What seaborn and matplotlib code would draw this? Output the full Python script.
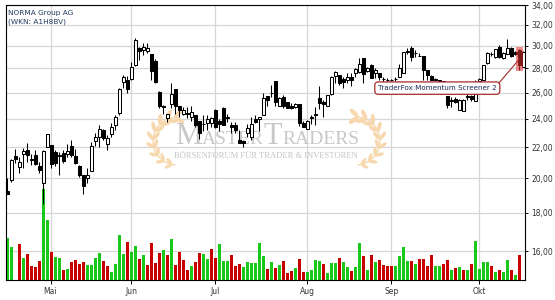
import numpy as np
import pandas as pd
import matplotlib
matplotlib.use("Agg")
import matplotlib.pyplot as plt
import seaborn as sns
from matplotlib.patches import Ellipse, Rectangle
from matplotlib.transforms import IdentityTransform
from matplotlib.offsetbox import TextArea, HPacker, AnnotationBbox
from matplotlib.ticker import FixedLocator, FuncFormatter, NullLocator

# ---------------- data ----------------
title = "NORMA Group AG"
subtitle = "(WKN: A1H8BV)"
signal_label = "TraderFox Momentum Screener 2"
signal_index = 128

opens = [19.23, 19.89, 21.40, 20.71, 21.51, 21.80, 21.22, 21.47, 20.78, 19.70,
         22.03, 22.14, 21.69, 21.47, 21.62, 21.51, 22.07, 21.40, 20.76, 20.19,
         20.03, 20.47, 22.42, 22.66, 23.20, 22.18, 22.90, 23.52, 24.45, 26.84,
         27.02, 27.10, 28.29, 29.80, 29.62, 29.56, 29.26, 28.64, 26.04, 24.92,
         24.03, 25.10, 26.30, 24.98, 24.38, 24.40, 24.12, 24.27, 23.83, 23.62,
         23.70, 23.70, 24.65, 23.85, 24.80, 24.12, 23.54, 23.54, 22.50, 22.40,
         22.98, 22.66, 23.96, 23.94, 24.27, 25.73, 26.00, 26.94, 24.95, 25.68,
         25.29, 24.95, 24.90, 25.10, 23.70, 23.27, 24.12, 24.38, 25.54, 25.29,
         24.95, 25.90, 27.36, 27.44, 27.08, 26.98, 27.30, 27.60, 27.72, 28.88,
         27.78, 28.30, 27.60, 27.60, 27.12, 27.04, 27.02, 27.08, 27.30, 27.60,
         29.44, 29.80, 29.36, 29.12, 29.10, 27.86, 27.36, 27.02, 26.95, 26.90,
         25.73, 25.33, 25.50, 24.65, 24.60, 25.70, 25.73, 25.30, 26.90, 27.02,
         28.44, 29.26, 29.00, 29.90, 28.88, 29.30, 29.80, 29.44, 29.62, 28.13]
highs = [20.00, 21.20, 21.87, 21.33, 21.96, 22.26, 21.53, 21.80, 21.03, 21.80,
         22.93, 22.14, 21.80, 21.69, 21.80, 22.20, 22.48, 21.85, 20.80, 20.22,
         20.62, 22.37, 22.98, 23.54, 23.25, 22.83, 23.70, 24.27, 26.33, 27.44,
         27.36, 28.58, 30.69, 29.85, 30.26, 30.26, 29.30, 28.80, 26.12, 25.03,
         24.38, 26.77, 26.30, 24.98, 24.87, 24.87, 24.95, 24.27, 23.83, 24.27,
         24.27, 24.10, 24.70, 24.00, 24.87, 24.38, 23.78, 23.78, 23.20, 22.48,
         23.60, 24.15, 24.27, 24.15, 26.00, 25.73, 26.64, 26.94, 25.68, 25.81,
         25.29, 25.16, 25.20, 25.10, 23.85, 23.90, 24.27, 24.85, 26.50, 25.41,
         25.81, 27.36, 27.80, 27.44, 27.30, 27.64, 27.60, 28.00, 28.88, 28.88,
         28.10, 28.36, 28.00, 27.64, 27.30, 27.18, 27.10, 27.26, 28.40, 29.45,
         29.80, 29.98, 29.62, 29.34, 29.10, 27.86, 27.44, 27.15, 27.05, 26.95,
         25.73, 25.68, 25.68, 25.50, 25.50, 25.95, 25.81, 27.02, 27.15, 28.30,
         29.45, 29.40, 29.73, 30.09, 29.45, 30.60, 29.85, 29.50, 29.73, 29.50]
lows = [19.03, 19.77, 20.93, 20.30, 20.62, 21.03, 20.82, 20.82, 20.30, 18.50,
        22.03, 20.65, 20.78, 20.19, 20.93, 21.36, 21.36, 20.89, 20.09, 19.04,
        19.73, 20.45, 22.07, 22.03, 22.50, 21.80, 22.66, 23.18, 24.27, 26.33,
        25.97, 26.98, 28.23, 28.73, 29.17, 29.34, 27.00, 26.77, 24.80, 24.38,
        23.75, 24.80, 24.38, 24.12, 24.27, 24.03, 23.83, 23.40, 22.55, 23.10,
        23.18, 23.40, 23.35, 23.10, 23.54, 23.78, 22.95, 22.98, 22.26, 22.00,
        22.70, 22.50, 23.66, 23.10, 24.27, 24.95, 25.68, 24.95, 24.95, 24.78,
        24.78, 24.70, 24.78, 23.45, 23.38, 23.27, 23.60, 23.54, 24.70, 24.10,
        24.95, 25.81, 26.74, 26.61, 26.33, 26.74, 26.50, 27.26, 27.64, 26.80,
        27.72, 27.15, 27.20, 26.98, 26.80, 26.86, 26.90, 26.95, 27.26, 27.60,
        29.26, 28.67, 28.97, 29.05, 27.02, 27.00, 27.02, 26.98, 26.40, 25.90,
        24.78, 24.85, 25.16, 24.65, 24.55, 25.41, 25.30, 25.30, 26.20, 27.02,
        28.40, 29.10, 28.90, 28.90, 28.80, 29.30, 29.00, 29.15, 27.88, 28.13]
closes = [19.04, 21.14, 21.18, 21.00, 21.74, 21.47, 21.16, 20.87, 20.51, 21.74,
          22.90, 20.90, 20.95, 21.43, 21.08, 21.74, 21.47, 20.93, 20.19, 19.55,
          20.19, 22.07, 22.66, 23.27, 22.60, 22.64, 23.38, 24.15, 26.25, 27.26,
          26.25, 28.16, 30.54, 29.57, 29.90, 29.78, 27.78, 26.86, 24.96, 24.88,
          24.38, 25.90, 24.98, 24.65, 24.65, 24.36, 24.50, 23.54, 22.97, 23.58,
          24.00, 24.03, 23.42, 23.60, 23.54, 24.08, 23.38, 23.15, 22.30, 22.26,
          23.35, 23.60, 23.75, 24.10, 25.60, 25.41, 25.95, 25.29, 25.54, 24.95,
          24.78, 24.78, 25.07, 23.70, 23.42, 23.85, 24.08, 24.27, 25.15, 25.10,
          25.81, 27.26, 27.72, 26.74, 26.88, 27.30, 27.02, 27.95, 28.35, 27.50,
          28.00, 27.20, 27.86, 27.26, 27.08, 27.00, 26.98, 27.12, 28.00, 29.40,
          29.50, 28.97, 29.32, 29.08, 27.86, 27.44, 27.02, 27.12, 27.00, 26.00,
          25.03, 25.41, 25.29, 25.45, 25.38, 25.66, 25.50, 25.88, 27.10, 28.30,
          29.34, 29.22, 29.67, 28.95, 29.34, 29.84, 29.10, 29.24, 28.30, 29.44]
# volume in thousand shares
volumes = [169, 132, 0, 144, 89, 104, 56, 53, 76, 364,
           240, 112, 92, 89, 41, 45, 73, 80, 65, 73,
           60, 60, 89, 108, 75, 56, 33, 64, 180, 104,
           152, 113, 136, 85, 100, 60, 149, 67, 109, 120,
           100, 165, 60, 113, 80, 40, 56, 72, 109, 103,
           85, 125, 89, 144, 76, 76, 100, 57, 64, 52,
           72, 67, 69, 148, 96, 45, 72, 49, 60, 76,
           27, 36, 49, 84, 32, 32, 40, 80, 77, 64,
           28, 67, 67, 89, 72, 52, 36, 51, 148, 96,
           41, 100, 72, 80, 59, 57, 56, 56, 96, 132,
           76, 76, 64, 84, 84, 56, 100, 56, 56, 64,
           80, 40, 48, 53, 40, 40, 64, 157, 43, 72,
           72, 56, 32, 40, 32, 80, 40, 20, 100, 0]
# 1 = volume bar shown green (up day), 0 = red (down day)
vol_up = [1, 1, 1, 0, 1, 0, 0, 0, 0, 1,
          1, 0, 1, 1, 0, 1, 0, 0, 0, 0,
          1, 1, 1, 1, 0, 0, 1, 1, 1, 1,
          0, 1, 1, 0, 1, 0, 0, 0, 0, 1,
          0, 1, 0, 0, 0, 0, 1, 0, 0, 1,
          1, 0, 0, 1, 1, 1, 0, 0, 0, 1,
          1, 1, 1, 1, 1, 0, 1, 0, 1, 0,
          0, 0, 1, 0, 0, 1, 1, 1, 1, 0,
          1, 1, 1, 0, 1, 1, 0, 1, 1, 0,
          1, 0, 1, 0, 0, 0, 0, 1, 1, 1,
          1, 0, 1, 0, 0, 0, 0, 1, 1, 0,
          0, 1, 0, 1, 0, 1, 0, 1, 1, 1,
          1, 0, 1, 0, 1, 1, 0, 1, 0, 1]
month_labels = ["Mai", "Jun", "Jul", "Aug", "Sep", "Okt"]
month_pos = [10.8, 31, 52, 75, 96, 118]
price_ticks = [16, 18, 20, 22, 24, 26, 28, 30, 32, 34]

# ---------------- figure ----------------
o = np.array(opens); h = np.array(highs); l = np.array(lows); c = np.array(closes)
n = len(c)
idx = np.arange(n)

sns.set_theme(style="white")
plt.rcParams["font.family"] = ["DejaVu Sans"]

W, H = 555, 300
fig = plt.figure(figsize=(W / 100, H / 100), dpi=100)
fig.patch.set_facecolor("white")
rect = [6 / W, 20 / H, 519 / W, 275 / H]
axg = fig.add_axes(rect)       # grid + watermark (bottom)
axv = axg.twinx()              # volume
ax = axg.twinx()               # candles + price labels (top)

GREEN, RED = "#19c819", "#c80000"
dfv = pd.DataFrame({"idx": idx, "vol": volumes,
                    "dir": ["up" if u else "down" for u in vol_up]})
sns.barplot(data=dfv, x="idx", y="vol", hue="dir",
            palette={"up": GREEN, "down": RED}, native_scale=True,
            dodge=False, width=0.8, errorbar=None, saturation=1,
            legend=False, linewidth=0, ax=axv)
axv.set_ylim(0, max(volumes) / 0.331)
axv.yaxis.set_visible(False)
axv.set_xlabel(""); axv.set_ylabel("")

xlim = (-0.325, n - 0.575)
ylim = (14.64, 34.0)

# grid axes
axg.set_facecolor("white")
axg.set_yscale("log")
axg.set_ylim(*ylim)
axg.yaxis.set_major_locator(FixedLocator(price_ticks))
axg.yaxis.set_minor_locator(NullLocator())
axg.set_xticks(month_pos, month_labels)
axg.xaxis.set_minor_locator(NullLocator())
axg.set_xlim(*xlim)
axg.grid(True, which="major", color="#d6d6d6", linewidth=0.9)
axg.set_axisbelow(True)
axg.tick_params(axis="y", left=False, right=False, labelleft=False, labelright=False)
axg.tick_params(axis="x", bottom=True, top=False, length=2.6, width=0.7,
                color="black", labelsize=5.5, labelcolor="#333333", pad=2.5)
for sp in axg.spines.values():
    sp.set_visible(False)
for sp in axv.spines.values():
    sp.set_visible(False)

# watermark
ident = IdentityTransform()
wm_leaf = "#f7d8ae"
def laurel(cx, cy, side):
    R = 24
    ys0 = H - cy
    angs = np.deg2rad(np.linspace(-78, 84, 9))
    stem_a = np.deg2rad(np.linspace(-85, 88, 60))
    axg.plot(cx + side * R * np.cos(stem_a), ys0 + R * np.sin(stem_a),
             transform=ident, color=wm_leaf, lw=1.0, zorder=1)
    for k, a in enumerate(angs):
        px = cx + side * R * np.cos(a)
        py = ys0 + R * np.sin(a)
        tx, ty = -side * np.sin(a), np.cos(a)
        tang = np.degrees(np.arctan2(ty, tx))
        size = 0.75 + 0.3 * k / (len(angs) - 1)
        for s in (1, -1):
            la = tang + s * 38
            lx = px + 5.5 * size * np.cos(np.radians(la))
            ly = py + 5.5 * size * np.sin(np.radians(la))
            axg.add_patch(Ellipse((lx, ly), 11 * size, 4.3 * size, angle=la,
                                  transform=ident, color=wm_leaf, lw=0, zorder=1))
laurel(177, 141, -1)
laurel(356, 141, 1)

wm_col = "#c8c8c8"
big = dict(fontfamily="Liberation Serif", fontsize=22, color=wm_col)
small = dict(fontfamily="Liberation Serif", fontsize=14, color=wm_col)
pack = HPacker(children=[TextArea("M", textprops=big), TextArea("ASTER", textprops=small),
                         TextArea("T", textprops=big), TextArea("RADERS", textprops=small)],
               align="baseline", pad=0, sep=0)
ab = AnnotationBbox(pack, (267, H - 137), xycoords="figure pixels", frameon=False,
                    box_alignment=(0.5, 0.5), pad=0, zorder=1)
axg.add_artist(ab)
axg.text(266, H - 156.5, "BÖRSENFORUM FÜR TRADER & INVESTOREN", transform=ident,
         ha="center", va="center", fontfamily="Liberation Serif", fontsize=6.1,
         color="#c4c4c4", zorder=1)

# candles
ax.set_yscale("log")
ax.vlines(idx, l, h, colors="black", linewidth=0.75, zorder=2)
bottom = np.minimum(o, c)
height = np.abs(c - o)
up = c > o
ax.bar(idx[up], height[up], bottom=bottom[up], width=0.7, color="white",
       edgecolor="black", linewidth=0.75, zorder=3)
ax.bar(idx[~up], height[~up], bottom=bottom[~up], width=0.7, color="black",
       edgecolor="black", linewidth=0.75, zorder=3)

# signal highlight + annotation
k = signal_index
lo_h, hi_h = l[k] * 0.995, h[k] * 1.006
ax.add_patch(Rectangle((k - 0.8, lo_h), 1.6, hi_h - lo_h, facecolor="#e83030",
                       alpha=0.55, edgecolor="none", zorder=4))
ax.annotate(signal_label, xy=(k, (h[k] + l[k]) / 2), xytext=(-82, -29),
            textcoords="offset pixels", ha="center", va="center",
            fontsize=5.1, color="#1a2a55", zorder=6,
            bbox=dict(boxstyle="round,pad=0.45,rounding_size=0.5", fc="white",
                      ec="#a52a2a", lw=0.9),
            arrowprops=dict(arrowstyle="-", color="#a52a2a", lw=0.8,
                            relpos=(1.0, 0.88), shrinkA=0, shrinkB=0))

ax.set_ylim(*ylim)
ax.set_xlim(*xlim)
ax.yaxis.set_major_locator(FixedLocator(price_ticks))
ax.yaxis.set_minor_locator(NullLocator())
ax.yaxis.set_major_formatter(FuncFormatter(lambda v, p: f"{v:.2f}".replace(".", ",")))
ax.tick_params(axis="y", right=True, left=False, labelright=True, labelleft=False,
               length=2.4, width=0.7, color="black", pad=2.0, labelsize=5.5,
               labelcolor="#333333")
for sp in ax.spines.values():
    sp.set_visible(True)
    sp.set_color("black")
    sp.set_linewidth(0.8)

fig.text(7.5 / W, 1 - 12.5 / H, title, ha="left", va="center", fontsize=5.3, color="#223a5e")
fig.text(7.5 / W, 1 - 21.5 / H, subtitle, ha="left", va="center", fontsize=5.3, color="#223a5e")

fig.savefig("out.png", dpi=100, facecolor="white")
